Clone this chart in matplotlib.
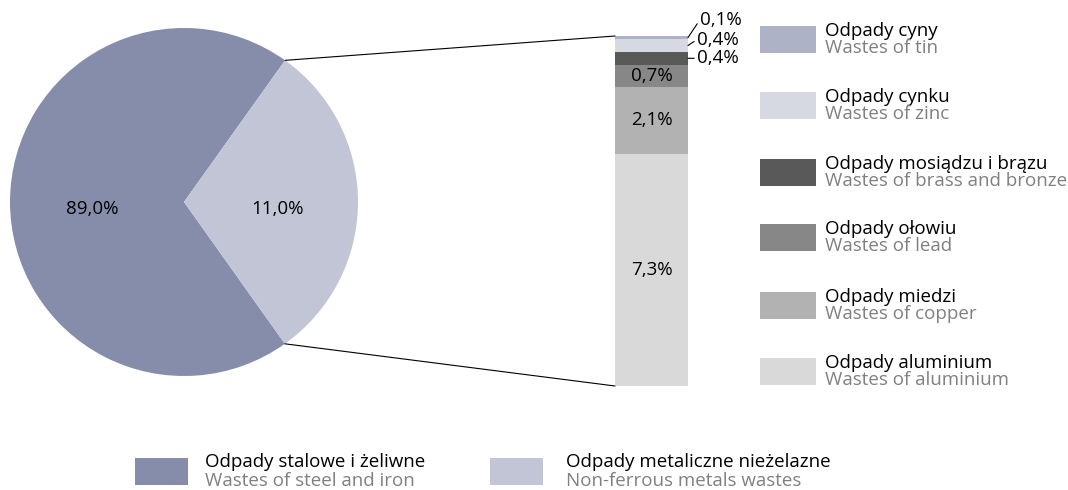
import math

import matplotlib.pyplot as plt
from matplotlib.patches import ConnectionPatch, Rectangle

plt.rcParams["font.family"] = ["Open Sans", "DejaVu Sans"]

# ---------- Data ----------

pie_pl = ["Odpady stalowe i żeliwne", "Odpady metaliczne nieżelazne"]
pie_en = ["Wastes of steel and iron", "Non-ferrous metals wastes"]
pie_share = [89.0, 11.0]
# the published pie is not drawn to scale: wedge sizes as they appear in the picture
pie_drawn = [69.7, 30.3]
pie_colors = ["#858dab", "#c2c5d6"]

# bar stacked from bottom to top
bar_pl = ["Odpady aluminium", "Odpady miedzi", "Odpady ołowiu",
          "Odpady mosiądzu i brązu", "Odpady cynku", "Odpady cyny"]
bar_en = ["Wastes of aluminium", "Wastes of copper", "Wastes of lead",
          "Wastes of brass and bronze", "Wastes of zinc", "Wastes of tin"]
bar_share = [7.3, 2.1, 0.7, 0.4, 0.4, 0.1]
bar_colors = ["#d9d9d9", "#b2b2b2", "#878787", "#595959", "#d6d8e2", "#adb2c6"]

FS = 13.5


def pct(v):
    return f"{v:.1f}%".replace(".", ",")


fig = plt.figure(figsize=(10.68, 4.90), dpi=100)

# overlay in pixel units for the legends
ov = fig.add_axes([0, 0, 1, 1])
ov.set_xlim(0, 1068)
ov.set_ylim(490, 0)
ov.axis("off")

# ---------- Pie ----------

ax_pie = fig.add_axes([10 / 1068, (490 - 376) / 490, 348 / 1068, 348 / 490])
wedges, _ = ax_pie.pie(pie_drawn, colors=pie_colors, startangle=54.5,
                       radius=1, wedgeprops=dict(linewidth=0))
ax_pie.set_aspect("equal")
ax_pie.set_xlim(-1, 1)
ax_pie.set_ylim(-1, 1)
ax_pie.text(-0.53, -0.04, pct(pie_share[0]), ha="center", va="center", fontsize=FS)
ax_pie.text(0.54, -0.04, pct(pie_share[1]), ha="center", va="center", fontsize=FS)

# ---------- Bar ----------

ax_bar = fig.add_axes([615 / 1068, (490 - 386) / 490, 73 / 1068, 350 / 490])
bottom = 0
mids = []
for v, c in zip(bar_share, bar_colors):
    ax_bar.bar(0, v, bottom=bottom, width=1, color=c, linewidth=0)
    mids.append(bottom + v / 2)
    bottom += v
ax_bar.set_xlim(-0.5, 0.5)
ax_bar.set_ylim(0, sum(bar_share))
ax_bar.axis("off")

offsets = [None, None, None, (9, 0), (9, 6), (12, 18)]
for v, m, off in zip(bar_share, mids, offsets):
    if off is None:
        ax_bar.text(0, m, pct(v), ha="center", va="center", fontsize=FS)
    else:
        ax_bar.annotate(pct(v), xy=(0.5, m), xytext=off, textcoords="offset pixels",
                        ha="left", va="center", fontsize=FS,
                        arrowprops=dict(arrowstyle="-", lw=0.8, color="black",
                                        shrinkA=0, shrinkB=0, relpos=(0, 0.5)))

# connector lines from wedge edges to bar corners
for ang, yb in [(wedges[1].theta2, sum(bar_share)), (wedges[1].theta1, 0)]:
    p = (math.cos(math.radians(ang)), math.sin(math.radians(ang)))
    con = ConnectionPatch(xyA=p, coordsA=ax_pie.transData, xyB=(-0.5, yb),
                          coordsB=ax_bar.transData, color="black", lw=0.8)
    fig.add_artist(con)

# ---------- Legends ----------

legend_tops = [358, 292, 224, 159, 92, 26]
for top, pl, en, c in zip(legend_tops, bar_pl, bar_en, bar_colors):
    ov.add_patch(Rectangle((760, top), 56, 27, color=c, lw=0))
    ov.text(825, top + 5, pl, ha="left", va="center", fontsize=FS, color="black")
    ov.text(825, top + 22, en, ha="left", va="center", fontsize=FS, color="#808080")

for x, tx, pl, en, c in zip([135, 490], [205, 566], pie_pl, pie_en, pie_colors):
    ov.add_patch(Rectangle((x, 458), 53, 27, color=c, lw=0))
    ov.text(tx, 462, pl, ha="left", va="center", fontsize=FS, color="black")
    ov.text(tx, 481, en, ha="left", va="center", fontsize=FS, color="#808080")

fig.savefig("out.png", dpi=100)
plt.close(fig)
